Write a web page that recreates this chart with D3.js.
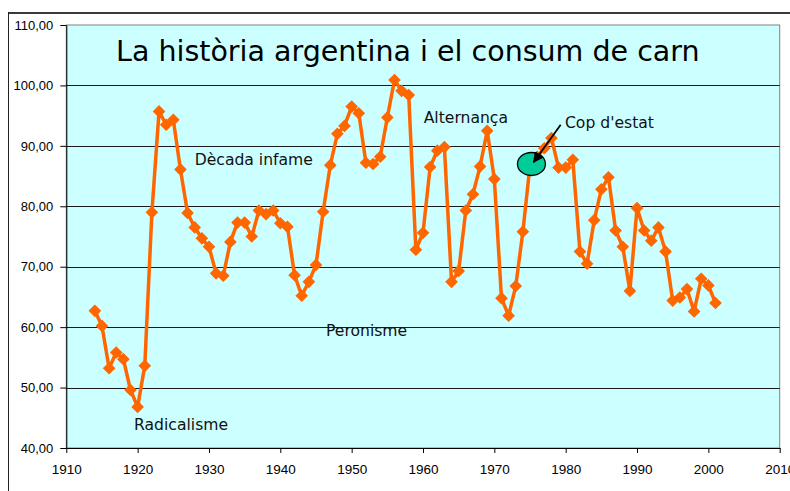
<!DOCTYPE html>
<html>
<head>
<meta charset="utf-8">
<script src="https://cdn.jsdelivr.net/npm/d3@7"></script>
<style>
  body { margin: 0; background: #fff; }
  svg { display: block; }
  .tick text { font-family: "Liberation Sans", Arial, sans-serif; fill: #000; }
  .note { font-family: "DejaVu Sans", Verdana, sans-serif; font-size: 15.6px; fill: #111; }
</style>
</head>
<body>
<svg width="790" height="491"></svg>
<script>
// consum de carn per càpita (kg/any), llegit del gràfic
var years = [1914,1915,1916,1917,1918,1919,1920,1921,1922,1923,1924,1925,1926,1927,1928,1929,
	1930,1931,1932,1933,1934,1935,1936,1937,1938,1939,1940,1941,1942,1943,1944,1945,1946,1947,1948,1949,
	1950,1951,1952,1953,1954,1955,1956,1957,1958,1959,1960,1961,1962,1963,1964,1965,1966,1967,1968,1969,
	1970,1971,1972,1973,1974,1975,1976,1977,1978,1979,1980,1981,1982,1983,1984,1985,1986,1987,1988,1989,
	1990,1991,1992,1993,1994,1995,1996,1997,1998,1999,2000,2001];
var consum = [62.7,60.2,53.2,55.8,54.7,49.6,46.8,53.6,79.0,95.7,93.5,94.3,86.1,78.9,76.5,74.7,
	73.3,68.9,68.5,74.1,77.3,77.3,75.0,79.3,78.7,79.3,77.2,76.6,68.6,65.2,67.5,70.3,79.1,86.8,92.0,93.3,
	96.5,95.4,87.2,87.0,88.2,94.7,100.9,99.1,98.4,72.8,75.6,86.5,89.2,89.8,67.5,69.3,79.3,82.0,86.6,92.5,
	84.5,64.8,61.9,66.8,75.8,86.8,88.2,89.6,91.3,86.4,86.4,87.7,72.5,70.5,77.7,82.8,84.8,76.0,73.3,66.0,
	79.7,76.0,74.3,76.5,72.5,64.4,64.9,66.3,62.6,68.0,66.9,64.0];
var yTicks = [40,50,60,70,80,90,100,110];
var xTicks = [1910,1920,1930,1940,1950,1960,1970,1980,1990,2000,2010];

var title = "La història argentina i el consum de carn";
var notes = [
	{text: "Dècada infame", year: 1928.0, value: 86.8},
	{text: "Alternança", year: 1960.1, value: 93.8},
	{text: "Cop d'estat", year: 1979.9, value: 92.9},
	{text: "Peronisme", year: 1946.4, value: 58.5},
	{text: "Radicalisme", year: 1919.5, value: 43.0}
];
// el cop de 1976
var cop = {year: 1975.2, value: 87.0};
var fletxa = {from: [1979.3, 93.5], to: [1975.5, 87.3]};

var svg = d3.select("svg");

var xScale = d3.scaleLinear().domain([1910, 2010]).range([66.3, 779.7]);
var yScale = d3.scaleLinear().domain([40, 110]).range([448, 25]);

var ca = d3.formatLocale({decimal: ",", thousands: ".", grouping: [3], currency: ["", " €"]});

// marc del gràfic
svg.append("line")
	.attr("x1", 8).attr("x2", 790).attr("y1", 13).attr("y2", 13)
	.attr("stroke", "#3a3a3a").attr("stroke-width", 2);
svg.append("line")
	.attr("x1", 8.5).attr("x2", 8.5).attr("y1", 12).attr("y2", 491)
	.attr("stroke", "#222").attr("stroke-width", 1);

// àrea de traçat
svg.append("rect")
	.attr("x", xScale(1910)).attr("y", yScale(110))
	.attr("width", xScale(2010) - xScale(1910))
	.attr("height", yScale(40) - yScale(110))
	.attr("fill", "#ccffff")
	.attr("stroke", "#808080");

// línies de quadrícula
svg.append("g")
	.selectAll("line")
	.data(yTicks.slice(1, -1))
	.enter()
	.append("line")
	.attr("x1", xScale(1910)).attr("x2", xScale(2010))
	.attr("y1", function(d) { return Math.round(yScale(d)) + 0.5; })
	.attr("y2", function(d) { return Math.round(yScale(d)) + 0.5; })
	.attr("stroke", "#1a1a1a");

// eixos
var yAxis = d3.axisLeft(yScale)
	.tickValues(yTicks)
	.tickFormat(ca.format(".2f"))
	.tickSizeInner(6).tickSizeOuter(0).tickPadding(7);
var xAxis = d3.axisBottom(xScale)
	.tickValues(xTicks)
	.tickFormat(d3.format("d"))
	.tickSizeInner(5).tickSizeOuter(0).tickPadding(11);

svg.append("g")
	.attr("transform", "translate(" + xScale(1910) + ",0)")
	.call(yAxis)
	.call(function(g) { g.selectAll("text").style("font-size", "13px"); });
svg.append("g")
	.attr("transform", "translate(0," + yScale(40) + ")")
	.call(xAxis)
	.call(function(g) { g.selectAll("text").style("font-size", "13.5px"); });

// sèrie
var line = d3.line()
	.x(function(d, i) { return xScale(years[i]); })
	.y(function(d) { return yScale(d); });

svg.append("path")
	.datum(consum)
	.attr("d", line)
	.attr("fill", "none")
	.attr("stroke", "#ff6600")
	.attr("stroke-width", 3.5)
	.attr("stroke-linejoin", "round");

var diamond = d3.symbol().type(d3.symbolSquare).size(80);
svg.append("g")
	.selectAll("path")
	.data(consum)
	.enter()
	.append("path")
	.attr("d", diamond)
	.attr("transform", function(d, i) {
		return "translate(" + xScale(years[i]) + "," + yScale(d) + ") rotate(45)";
	})
	.attr("fill", "#ff6600");

// títol i etiquetes
svg.append("text")
	.attr("x", 116).attr("y", 60.5)
	.style("font-family", "'DejaVu Sans', Verdana, sans-serif")
	.style("font-size", "28.5px")
	.attr("fill", "#000")
	.text(title);

svg.append("g")
	.selectAll("text")
	.data(notes)
	.enter()
	.append("text")
	.attr("class", "note")
	.attr("x", function(d) { return xScale(d.year); })
	.attr("y", function(d) { return yScale(d.value); })
	.text(function(d) { return d.text; });

// cercle i fletxa del cop d'estat
svg.append("ellipse")
	.attr("cx", xScale(cop.year)).attr("cy", yScale(cop.value))
	.attr("rx", 14).attr("ry", 11.5)
	.attr("fill", "#00cc99")
	.attr("stroke", "#000").attr("stroke-width", 1.3);

svg.append("defs").append("marker")
	.attr("id", "cap")
	.attr("viewBox", "0 0 10 10")
	.attr("refX", 9).attr("refY", 5)
	.attr("markerWidth", 6).attr("markerHeight", 6)
	.attr("markerUnits", "strokeWidth")
	.attr("orient", "auto")
	.append("path")
	.attr("d", "M0,0L10,5L0,10z")
	.attr("fill", "#000");

svg.append("line")
	.attr("x1", xScale(fletxa.from[0])).attr("y1", yScale(fletxa.from[1]))
	.attr("x2", xScale(fletxa.to[0])).attr("y2", yScale(fletxa.to[1]))
	.attr("stroke", "#000").attr("stroke-width", 1.8)
	.attr("marker-end", "url(#cap)");
</script>
</body>
</html>
